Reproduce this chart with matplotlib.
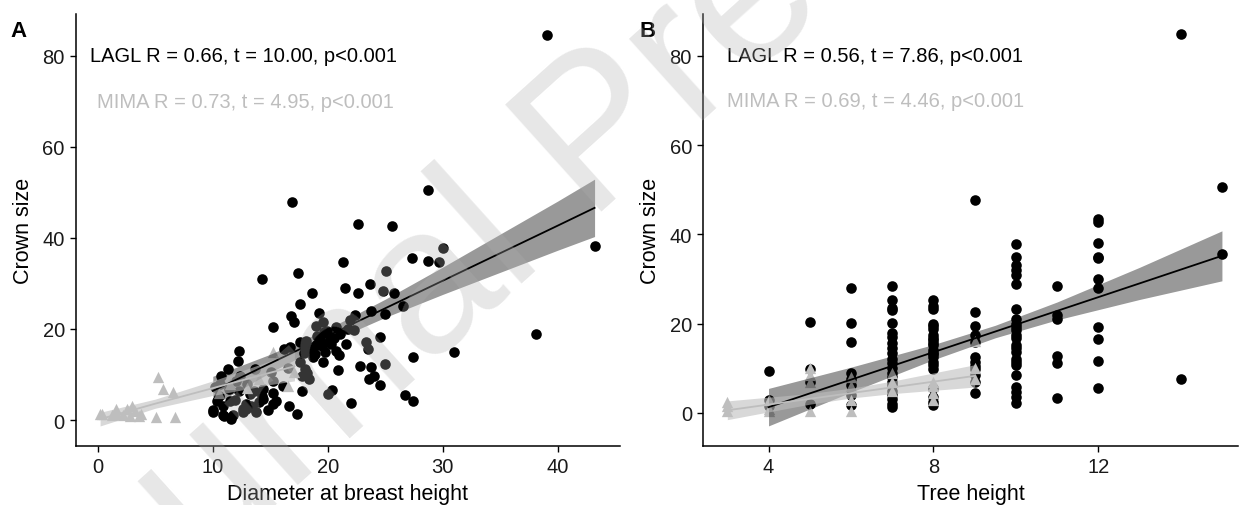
import matplotlib
matplotlib.use('Agg')
import matplotlib.pyplot as plt
import numpy as np

plt.rcParams['font.family'] = ['Liberation Sans', 'DejaVu Sans']

# ---------------- data, panel A (crown size vs DBH) ----------------
lagl_dbh = [39.1, 28.7, 16.9, 22.6, 25.6, 30.0, 43.2, 27.3, 28.7, 29.7, 21.3, 14.3,
            17.4, 23.7, 21.5, 18.6, 22.6, 24.8, 25.8, 25.1, 17.6, 26.5, 19.2, 22.4,
            23.8, 25.0, 16.8, 17.1, 15.2, 19.0, 19.7, 20.7, 21.8, 38.1, 17.6, 19.1,
            20.1, 21.6, 23.3, 24.5, 23.5, 16.2, 18.0, 19.5, 20.7, 12.3, 31.0, 27.4,
            12.2, 17.6, 19.6, 25.0, 22.8, 23.8, 13.7, 11.3, 20.9, 18.0, 17.8, 10.7,
            12.4, 23.6, 18.4, 24.5, 20.4, 17.8, 20.0, 26.7, 27.4, 22.0, 15.2, 15.2,
            16.6, 17.3, 10.0, 10.4, 10.9, 11.6, 12.6, 13.3, 13.8, 14.3, 13.6, 11.4,
            12.9, 10.2, 10.9, 12.3, 19.9, 21.1, 16.7, 18.1, 18.5, 19.0, 19.8, 20.3,
            18.7, 24.0, 18.2, 15.5, 15.2, 16.1, 10.6, 15.1, 11.5, 13.2, 14.4, 14.4,
            12.6, 12.9, 10.0, 11.0, 11.8, 13.4, 18.9, 19.3, 20.2, 21.0, 17.9, 18.6,
            22.3, 16.5, 14.8, 13.0, 11.9, 10.5, 12.0, 14.0, 19.6, 20.5, 21.9]
lagl_crown = [84.6, 50.5, 47.8, 43.0, 42.7, 37.7, 38.3, 35.5, 35.0, 34.6, 34.6, 31.0,
              32.3, 29.9, 28.9, 28.0, 28.0, 28.4, 28.0, 32.8, 25.5, 25.1, 23.4, 23.1,
              23.9, 23.3, 22.9, 21.6, 20.4, 20.7, 19.4, 20.4, 20.0, 19.0, 17.2, 18.4,
              17.1, 16.7, 17.1, 18.2, 15.6, 15.6, 16.0, 16.3, 15.2, 15.2, 14.9, 13.9,
              13.0, 12.7, 12.7, 12.4, 11.9, 11.6, 11.3, 11.3, 11.1, 11.2, 9.7, 9.7,
              9.7, 9.0, 9.0, 7.7, 6.7, 6.4, 5.7, 5.5, 4.2, 3.7, 5.9, 3.5,
              3.0, 1.3, 1.7, 4.2, 1.1, 0.2, 1.7, 3.1, 1.8, 5.3, 6.4, 6.8,
              3.5, 7.2, 3.1, 6.4, 19.6, 18.9, 16.0, 17.4, 15.5, 16.5, 15.0, 16.8,
              13.8, 9.7, 10.4, 4.2, 8.6, 7.5, 7.9, 10.5, 4.2, 5.7, 4.6, 6.8,
              2.4, 2.4, 2.2, 0.9, 1.0, 2.8, 14.5, 17.8, 18.2, 14.2, 14.8, 15.9,
              19.8, 11.5, 2.2, 8.0, 4.5, 5.2, 8.5, 4.0, 21.5, 18.0, 22.0]
mima_dbh = [5.2, 5.7, 6.5, 5.1, 6.7, 0.4, 1.6, 1.7, 2.5, 3.0, 3.2, 2.8,
            3.8, 1.2, 2.2, 3.6, 0.2, 10.5, 11.5, 13.0, 14.0, 15.2, 16.5, 17.1]
mima_crown = [9.4, 6.8, 6.1, 0.6, 0.6, 1.3, 2.4, 1.3, 2.4, 3.1, 2.0, 0.9,
              1.3, 1.1, 1.1, 0.9, 1.3, 6.0, 8.0, 7.0, 9.0, 15.0, 7.5, 10.5]

# fitted lines with confidence bands
lagl_fit_dbh = [10, 15, 20, 25, 30, 35, 40, 43.2]
lagl_fit_a = [6.4, 12.45, 18.5, 24.55, 30.6, 36.65, 42.7, 46.6]
lagl_half_a = [3.2, 2.0, 1.5, 2.0, 3.0, 4.2, 5.4, 6.3]
mima_fit_dbh = [0.2, 5, 10, 15, 17.1]
mima_fit_a = [0.2, 3.6, 7.0, 10.4, 11.8]
mima_half_a = [1.5, 1.0, 1.6, 2.6, 3.2]

# ---------------- data, panel B (crown size vs tree height) ----------------
lagl_height = [4, 4, 4,
               5, 5, 5, 5,
               6, 6, 6, 6, 6, 6, 6, 6,
               7, 7, 7, 7, 7, 7, 7, 7, 7, 7, 7, 7, 7, 7, 7, 7, 7, 7, 7, 7, 7, 7,
               8, 8, 8, 8, 8, 8, 8, 8, 8, 8, 8, 8, 8, 8, 8, 8, 8, 8, 8, 8, 8, 8,
               9, 9, 9, 9, 9, 9, 9, 9, 9, 9, 9, 9,
               10, 10, 10, 10, 10, 10, 10, 10, 10, 10, 10, 10, 10, 10, 10, 10, 10,
               10, 10, 10, 10, 10, 10, 10,
               11, 11, 11, 11, 11, 11,
               12, 12, 12, 12, 12, 12, 12, 12, 12, 12, 12,
               14, 14, 15, 15]
lagl_crown_b = [9.4, 3.0, 1.5,
                20.4, 9.8, 7.0, 2.0,
                28.0, 20.2, 15.9, 9.0, 7.7, 6.2, 4.0, 1.7,
                28.5, 25.4, 23.5, 23.0, 20.2, 18.0, 17.0, 15.7, 12.2, 11.1, 10.0,
                9.0, 8.1, 7.0, 6.2, 5.0, 4.0, 3.2, 2.1, 1.3, 13.5, 14.5,
                25.2, 23.4, 20.0, 18.9, 17.4, 16.3, 15.2, 14.0, 12.5, 11.4, 9.9,
                5.5, 3.6, 1.7, 24.0, 19.5, 16.8, 13.2, 10.7, 2.5, 13.5, 15.7,
                47.8, 22.6, 19.5, 17.4, 15.9, 12.5, 11.4, 9.9, 8.4, 6.9, 4.5, 10.5,
                37.8, 35.0, 33.1, 32.0, 30.8, 28.8, 23.2, 21.1, 20.0, 18.5, 16.7,
                15.2, 13.7, 12.2, 10.7, 8.6, 5.8, 4.7, 3.6, 2.2, 17.5, 14.5, 11.5,
                19.2,
                28.5, 22.0, 21.1, 12.8, 11.2, 3.4,
                43.4, 42.8, 38.1, 35.0, 34.7, 30.1, 28.0, 19.3, 16.5, 11.6, 5.5,
                84.8, 7.7, 50.6, 35.5]
mima_height = [3, 3, 3, 4, 4, 4, 5, 5, 5, 5, 6, 6, 6, 6, 7, 7, 7, 8, 8, 8, 8,
               9, 9, 9]
mima_crown_b = [2.5, 1.5, 0.5, 3.0, 1.0, 0.5, 10.0, 8.5, 7.0, 0.5, 8.0, 6.0,
                3.0, 0.5, 9.0, 7.0, 5.0, 7.0, 6.0, 4.5, 3.0, 16.2, 10.0, 7.5]

lagl_fit_height = [4, 6, 8, 9.5, 11, 13, 15]
lagl_fit_b = [1.3, 7.46, 13.62, 18.24, 22.86, 29.02, 35.2]
lagl_half_b = [4.2, 2.8, 1.7, 1.4, 2.0, 3.6, 5.6]
mima_fit_height = [3, 5, 6, 7, 9]
mima_fit_b = [0.6, 3.17, 4.45, 5.73, 8.3]
mima_half_b = [2.1, 1.2, 1.1, 1.4, 2.5]

stats_a = ['LAGL R = 0.66, t = 10.00, p<0.001', 'MIMA R = 0.73, t = 4.95, p<0.001']
stats_b = ['LAGL R = 0.56, t = 7.86, p<0.001', 'MIMA R = 0.69, t = 4.46, p<0.001']

# ---------------- styling ----------------
LAGL_C = 'black'
MIMA_C = '#BEBEBE'
FS = 14.5

fig = plt.figure(figsize=(12.39, 5.06), dpi=100)
ax_a = fig.add_axes([0.0613, 0.1166, 0.439, 0.854])
ax_b = fig.add_axes([0.5674, 0.1166, 0.4318, 0.854])


def draw_panel(ax, lx, ly, mx, my, lfx, lfy, lhw, mfx, mfy, mhw, stats, xlim, ylim,
               xticks, xlabel, txt_x):
    ax.scatter(lx, ly, s=58, c=LAGL_C, marker='o', linewidths=0, zorder=2)
    ax.scatter(mx, my, s=66, c=MIMA_C, marker='^', linewidths=0, zorder=2)
    # confidence bands drawn over points
    lfy = np.array(lfy); lhw = np.array(lhw)
    mfy = np.array(mfy); mhw = np.array(mhw)
    ax.fill_between(lfx, lfy - lhw, lfy + lhw, color='black', alpha=0.4,
                    linewidth=0, zorder=3)
    ax.fill_between(mfx, mfy - mhw, mfy + mhw, color=MIMA_C, alpha=0.6,
                    linewidth=0, zorder=3)
    ax.plot(lfx, lfy, color=LAGL_C, lw=1.3, zorder=4)
    ax.plot(mfx, mfy, color=MIMA_C, lw=1.3, zorder=4)

    ax.text(txt_x[0], 80, stats[0], color='black', fontsize=FS, va='center')
    ax.text(txt_x[1], 70, stats[1], color=MIMA_C, fontsize=FS, va='center')

    ax.set_xlim(*xlim)
    ax.set_ylim(*ylim)
    ax.set_xticks(xticks)
    ax.set_yticks([0, 20, 40, 60, 80])
    ax.spines['top'].set_visible(False)
    ax.spines['right'].set_visible(False)
    for s in ('left', 'bottom'):
        ax.spines[s].set_linewidth(1.1)
        ax.spines[s].set_color('black')
    ax.tick_params(labelsize=FS, length=4, width=1.0, pad=4, colors='black',
                   labelcolor='#1a1a1a')
    ax.set_xlabel(xlabel, fontsize=15.5, labelpad=5)
    ax.set_ylabel('Crown size', fontsize=15.5, labelpad=6)


draw_panel(ax_a, lagl_dbh, lagl_crown, mima_dbh, mima_crown,
           lagl_fit_dbh, lagl_fit_a, lagl_half_a,
           mima_fit_dbh, mima_fit_a, mima_half_a,
           stats_a, (-1.9, 45.4), (-5.7, 89.2), [0, 10, 20, 30, 40],
           'Diameter at breast height', (-0.7, -0.1))
draw_panel(ax_b, lagl_height, lagl_crown_b, mima_height, mima_crown_b,
           lagl_fit_height, lagl_fit_b, lagl_half_b,
           mima_fit_height, mima_fit_b, mima_half_b,
           stats_b, (2.41, 15.39), (-7.4, 89.4), [4, 8, 12],
           'Tree height', (2.98, 2.98))

fig.text(10 / 1239, 1 - 37 / 506, 'A', fontsize=16, fontweight='bold', va='baseline')
fig.text(640 / 1239, 1 - 37 / 506, 'B', fontsize=16, fontweight='bold', va='baseline')

# "Journal Pre-proof" watermark laid over the figure
fig.text(600 / 1239, 1 - 140 / 506, 'Journal Pre-proof', fontsize=150, rotation=42,
         color='#B0B0B0', alpha=0.3, ha='center', va='center', zorder=10,
         rotation_mode='anchor')

fig.savefig('out.png', dpi=100)
